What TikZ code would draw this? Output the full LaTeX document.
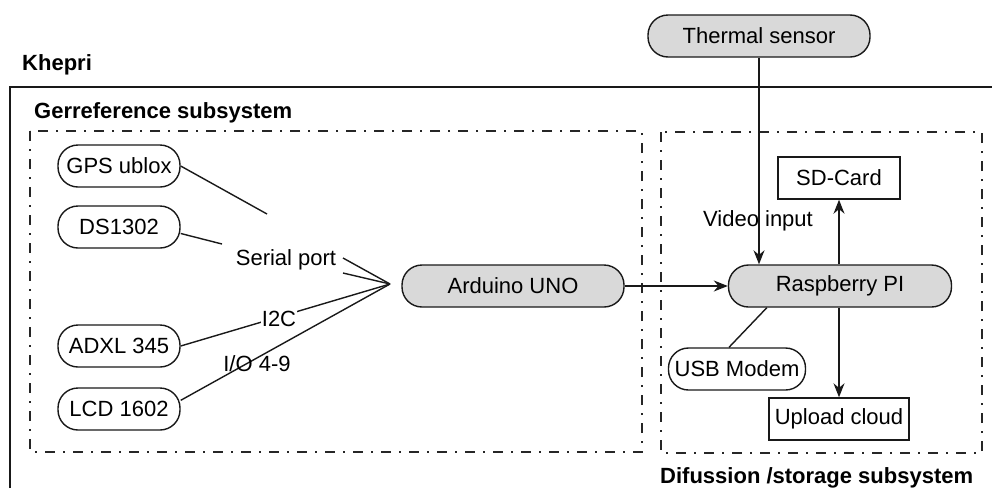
\documentclass[tikz,border=0pt]{standalone}
\usepackage{fontspec}
\setmainfont{Liberation Sans}
\usetikzlibrary{arrows.meta,calc}
\definecolor{boxgrey}{RGB}{217,217,217}
\begin{document}
\begin{tikzpicture}[x=1pt,y=-1pt,
  every node/.style={font=\fontsize{22}{26}\selectfont, inner sep=2pt},
  ln/.style={line width=1.4pt, draw=black!90},
  arr/.style={ln, -{Stealth[length=14pt,width=11pt]}},
  pill/.style={ln, draw, rounded corners=20pt, minimum height=42pt, align=center},
  gpill/.style={pill, fill=boxgrey, minimum width=222pt},
  wpill/.style={pill, fill=white, minimum width=122pt},
  sqbox/.style={ln, draw, fill=white, minimum height=42pt},
  title/.style={font=\fontsize{22}{26}\selectfont\bfseries, anchor=west},
  dd/.style={line width=1.4pt, draw=black!85, dash pattern=on 10pt off 8pt on 2pt off 8pt}
]
\useasboundingbox (0,0) rectangle (992,488);

% Khepri frame
\draw[ln] (10,488) -- (10,87) -- (992,87);
\node[title] (khepri) at (20,65) {Khepri};

% subsystem boxes
\draw[dd] (30,131) rectangle (642,452);
\draw[dd] (661,132) rectangle (982,453);
\node[title] (geo) at (32,113) {Gerreference subsystem};
\node[title] (dif) at (658,478) {Difussion /storage subsystem};

% nodes
\node[gpill] (thermal) at (759,36) {Thermal sensor};
\node[sqbox, minimum width=122pt] (sd) at (839,178) {SD-Card};
\node[gpill, minimum width=223pt] (rpi) at (840,286) {Raspberry PI};
\node[pill, minimum width=137pt, fill=white] (usb) at (737,369) {USB Modem};
\node[sqbox, minimum width=140pt, inner sep=1pt] (upload) at (839,419) {Upload cloud};
\node[gpill] (arduino) at (513,286) {Arduino UNO};

\node[wpill] (gps) at (119,166) {GPS ublox};
\node[wpill] (ds) at (119,227) {DS1302};
\node[wpill] (adxl) at (119,346) {ADXL 345};
\node[wpill] (lcd) at (119,409) {LCD 1602};

% coordinates
\coordinate (hub) at (390,284);
\coordinate (gpsend) at (267,214);
\coordinate (dsend) at (222,244);
\coordinate (s1) at (343,258);
\coordinate (s2) at (343,273);

% labels
\node (video) at (758,221) {Video input};
\node (serial) at (286,260) {Serial port};

% connectors right side
\draw[arr] (thermal.south) -- (thermal.south |- rpi.north);
\draw[arr] (sd.south |- rpi.north) -- (sd.south);
\draw[arr] (upload.north |- rpi.south) -- (upload.north);
\draw[ln] ($(rpi.south west)+(39,0)$) -- ($(usb.north)+(-8,0)$);
\draw[arr] (arduino.east) -- (rpi.west);

% connectors left side
\draw[ln] (gps.east) -- (gpsend);
\draw[ln] (ds.-6) -- (dsend);
\draw[ln] (s1) -- (hub);
\draw[ln] (s2) -- (hub);
\draw[ln] (adxl.east) -- (hub);
\draw[ln] (lcd.8) -- (hub);

\node[fill=white, inner sep=1pt] (i2c) at (279,319) {I2C};
\node (io) at (257,364) {I/O 4-9};
\end{tikzpicture}
\end{document}
